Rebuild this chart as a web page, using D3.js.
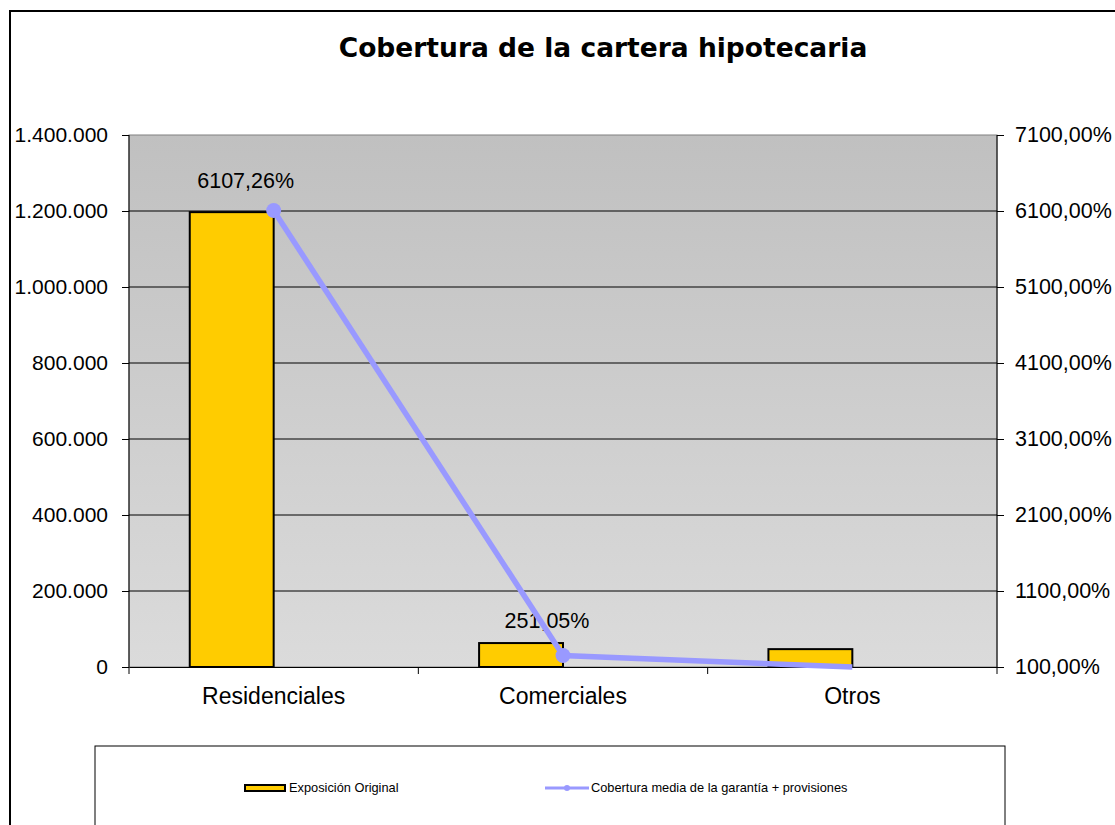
<!DOCTYPE html>
<html>
<head>
<meta charset="utf-8">
<script src="https://cdn.jsdelivr.net/npm/d3@7"></script>
<style>
  body { margin: 0; background: #fff; }
  text { font-family: "Liberation Sans", Arial, sans-serif; }
</style>
</head>
<body>
<svg></svg>
<script>
const WIDTH = 1115;
const HEIGHT = 825;

// data
const categories = ["Residenciales", "Comerciales", "Otros"];
const exposicion = [1197000, 63000, 47000];
const cobertura = [6107.26, 251.05, 100];
const coberturaLabels = ["6107,26%", "251,05%", ""];
const leftTicks = [0, 200000, 400000, 600000, 800000, 1000000, 1200000, 1400000];
const rightTicks = [100, 1100, 2100, 3100, 4100, 5100, 6100, 7100];

const plotL = 129, plotR = 997, plotT = 135, plotB = 667;

var svg = d3.select("svg").attr("width", WIDTH).attr("height", HEIGHT);

// outer chart border
svg.append("path")
  .attr("d", `M10,${HEIGHT + 5} V11 H${WIDTH + 5}`)
  .attr("fill", "none").attr("stroke", "#000").attr("stroke-width", 2);

svg.append("text")
  .attr("x", 603).attr("y", 57)
  .attr("text-anchor", "middle")
  .style("font-family", "'DejaVu Sans', Verdana, sans-serif")
  .style("font-weight", "bold")
  .style("font-size", "26.5px")
  .text("Cobertura de la cartera hipotecaria");

var x = d3.scaleBand().domain(categories).range([plotL, plotR]).padding(0);
var yL = d3.scaleLinear().domain([0, 1400000]).range([plotB, plotT]);
var yR = d3.scaleLinear().domain([100, 7100]).range([plotB, plotT]);

var grad = svg.append("defs").append("linearGradient")
  .attr("id", "bg").attr("x1", 0).attr("y1", 0).attr("x2", 0).attr("y2", 1);
grad.append("stop").attr("offset", "0%").attr("stop-color", "#c0c0c0");
grad.append("stop").attr("offset", "100%").attr("stop-color", "#dbdbdb");

svg.append("rect")
  .attr("x", plotL).attr("y", plotT)
  .attr("width", plotR - plotL).attr("height", plotB - plotT)
  .attr("fill", "url(#bg)").attr("stroke", "#808080").attr("stroke-width", 1);

// gridlines
svg.append("g").selectAll("line")
  .data(leftTicks.slice(1, -1))
  .enter().append("line")
  .attr("x1", plotL).attr("x2", plotR)
  .attr("y1", d => yL(d)).attr("y2", d => yL(d))
  .attr("stroke", "#000").attr("stroke-width", 1);

var locale = d3.formatLocale({ decimal: ",", thousands: ".", grouping: [3], currency: ["", "€"] });

var leftAxis = d3.axisLeft(yL).tickValues(leftTicks).tickSize(7).tickPadding(14)
  .tickFormat(locale.format(",d"));
var gL = svg.append("g").attr("transform", `translate(${plotL},0)`).call(leftAxis);

var rightAxis = d3.axisRight(yR).tickValues(rightTicks).tickSize(7).tickPadding(11)
  .tickFormat(d => d.toFixed(2).replace(".", ",") + "%");
var gR = svg.append("g").attr("transform", `translate(${plotR},0)`).call(rightAxis);

var bottomAxis = d3.axisBottom(x).tickSize(0).tickPadding(21);
var gB = svg.append("g").attr("transform", `translate(0,${plotB})`).call(bottomAxis);

// category separators
svg.append("g").selectAll("line")
  .data(categories.concat(["end"]))
  .enter().append("line")
  .attr("x1", (d, i) => plotL + i * x.bandwidth())
  .attr("x2", (d, i) => plotL + i * x.bandwidth())
  .attr("y1", plotB).attr("y2", plotB + 7)
  .attr("stroke", "#000");

[gL, gR, gB].forEach(g => {
  g.selectAll("path.domain").attr("stroke", "#000").attr("stroke-width", 1);
  g.selectAll("line").attr("stroke", "#000");
  g.selectAll("text").attr("fill", "#000")
    .style("font-family", "'Liberation Sans', Arial, sans-serif")
    .style("font-size", "21px");
});
gR.selectAll("text").style("font-size", "21.5px");
gB.selectAll("text").style("font-size", "23px");
gL.select("path.domain").attr("d", `M0,${plotT}V${plotB}`);
gR.select("path.domain").attr("d", `M0,${plotT}V${plotB}`);

// bars
var barW = x.bandwidth() * 0.29;
svg.append("g").selectAll("rect")
  .data(exposicion)
  .enter().append("rect")
  .attr("x", (d, i) => x(categories[i]) + x.bandwidth() / 2 - barW)
  .attr("y", d => yL(d))
  .attr("width", barW)
  .attr("height", d => plotB - yL(d))
  .attr("fill", "#ffcc00")
  .attr("stroke", "#000")
  .attr("stroke-width", 2);

// data labels (drawn under the line, as in the original)
const labelDx = [-28, -16, 0];
const labelDy = [-22, -28, 0];
svg.append("g").selectAll("text")
  .data(cobertura)
  .enter().append("text")
  .attr("x", (d, i) => x(categories[i]) + x.bandwidth() / 2)
  .attr("y", d => yR(d))
  .attr("dx", (d, i) => labelDx[i])
  .attr("dy", (d, i) => labelDy[i])
  .attr("text-anchor", "middle")
  .style("font-size", "21.5px")
  .text((d, i) => coberturaLabels[i]);

// line
var line = d3.line()
  .x((d, i) => x(categories[i]) + x.bandwidth() / 2)
  .y(d => yR(d));

svg.append("path")
  .datum(cobertura)
  .attr("d", line)
  .attr("fill", "none")
  .attr("stroke", "#9999ff")
  .attr("stroke-width", 5.5);

svg.append("g").selectAll("circle")
  .data(cobertura.slice(0, 2))
  .enter().append("circle")
  .attr("cx", (d, i) => x(categories[i]) + x.bandwidth() / 2)
  .attr("cy", d => yR(d))
  .attr("r", 7.5)
  .attr("fill", "#9999ff");

// legend
var lg = svg.append("g");
lg.append("rect")
  .attr("x", 95).attr("y", 746).attr("width", 910).attr("height", 100)
  .attr("fill", "#fff").attr("stroke", "#000").attr("stroke-width", 1);

lg.append("rect")
  .attr("x", 245).attr("y", 785).attr("width", 40).attr("height", 6)
  .attr("fill", "#ffcc00").attr("stroke", "#000").attr("stroke-width", 2);
lg.append("text")
  .attr("x", 289).attr("y", 792)
  .style("font-size", "12.8px")
  .text("Exposición Original");

lg.append("line")
  .attr("x1", 545).attr("x2", 589).attr("y1", 788).attr("y2", 788)
  .attr("stroke", "#9999ff").attr("stroke-width", 3);
lg.append("circle")
  .attr("cx", 567).attr("cy", 788).attr("r", 3).attr("fill", "#9999ff");
lg.append("text")
  .attr("x", 591).attr("y", 792)
  .style("font-size", "12.8px")
  .text("Cobertura media de la garantía + provisiones");
</script>
</body>
</html>
